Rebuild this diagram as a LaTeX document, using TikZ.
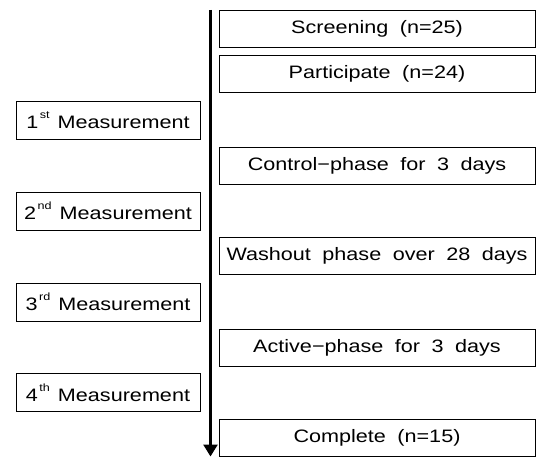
\documentclass[tikz,border=0pt]{standalone}
\usepackage{fontspec}
\setmainfont{Liberation Sans}[FakeStretch=1.2]
\usetikzlibrary{arrows.meta}

% ordinal with a small raised suffix
\newcommand{\ordsup}[2]{#1\kern1.5pt\raisebox{10pt}{\fontsize{10.5}{10.5}\selectfont #2}}
% label fonts with wide word spacing
\newcommand{\stagefont}{\fontsize{18}{20}\selectfont\spaceskip=11.5pt plus 2pt minus 1pt\relax}
\newcommand{\measfont}{\fontsize{18}{20}\selectfont\spaceskip=8pt plus 2pt minus 1pt\relax}

\begin{document}
\begin{tikzpicture}[x=1pt,y=-1pt,
  stage/.style={draw=black,line width=0.9pt,minimum width=316pt,minimum height=37pt,inner sep=0pt,font=\stagefont},
  measure/.style={draw=black,line width=0.9pt,minimum width=184pt,minimum height=38pt,inner sep=0pt,font=\measfont},
  timeline/.style={line width=2.6pt,-{Triangle[width=14pt,length=12pt]}}]
  \useasboundingbox (0,0) rectangle (536,457);

  % study stages on the right of the timeline
  \node[stage] (screen) at (377,28.5) {Screening (n=25)};
  \node[stage] (partic) at (377,73.5) {Participate (n=24)};
  \node[stage] (control) at (377,165.5) {Control−phase for 3 days};
  \node[stage] (washout) at (377,256) {Washout phase over 28 days};
  \node[stage] (active) at (377,347.5) {Active−phase for 3 days};
  \node[stage] (complete) at (377,437.5) {Complete (n=15)};

  % measurement points on the left
  \node[measure] (m1) at (108,120) {\ordsup{1}{st} Measurement};
  \node[measure] (m2) at (108,211) {\ordsup{2}{nd} Measurement};
  \node[measure] (m3) at (108,302) {\ordsup{3}{rd} Measurement};
  \node[measure] (m4) at (108,392.5) {\ordsup{4}{th} Measurement};

  % time axis
  \coordinate (tstart) at (210.5,10);
  \coordinate (tend) at (210.5,456.5);
  \draw[timeline] (tstart) -- (tend);
\end{tikzpicture}
\end{document}
